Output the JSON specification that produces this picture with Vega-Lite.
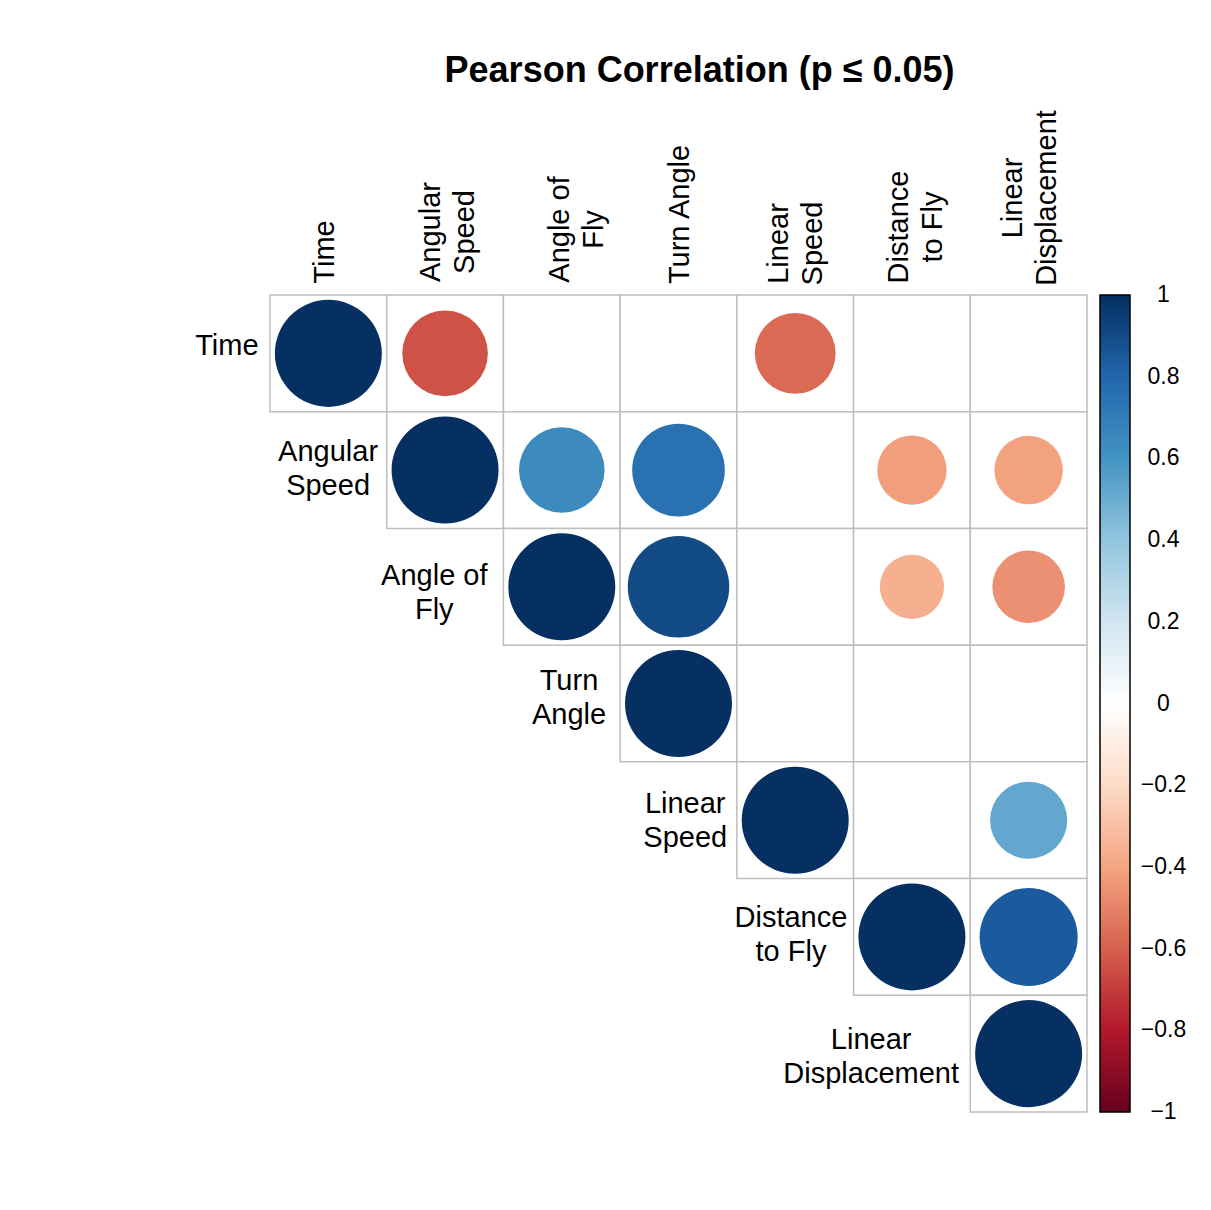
{
  "$schema": "https://vega.github.io/schema/vega-lite/v6.json",
  "width": 817,
  "height": 817,
  "autosize": {"type": "none"},
  "padding": {"left": 270, "top": 295, "right": 124, "bottom": 98},
  "background": "white",
  "title": {
    "text": "Pearson Correlation (p ≤ 0.05)",
    "font": "Liberation Sans",
    "fontSize": 36,
    "fontWeight": "bold",
    "color": "black",
    "anchor": "middle",
    "dx": 21,
    "offset": 20
  },
  "config": {
    "view": {"stroke": null},
    "font": "Liberation Sans",
    "text": {"font": "Liberation Sans", "fontSize": 29, "color": "black", "align": "center", "baseline": "middle", "lineBreak": "\n", "lineHeight": 34}
  },
  "datasets": {
    "cells": [
      {"row": "Time", "col": "Time", "r": 1},
      {"row": "Time", "col": "Angular Speed", "r": -0.64},
      {"row": "Time", "col": "Angle of Fly", "r": null},
      {"row": "Time", "col": "Turn Angle", "r": null},
      {"row": "Time", "col": "Linear Speed", "r": -0.57},
      {"row": "Time", "col": "Distance to Fly", "r": null},
      {"row": "Time", "col": "Linear Displacement", "r": null},
      {"row": "Angular Speed", "col": "Angular Speed", "r": 1},
      {"row": "Angular Speed", "col": "Angle of Fly", "r": 0.64},
      {"row": "Angular Speed", "col": "Turn Angle", "r": 0.75},
      {"row": "Angular Speed", "col": "Linear Speed", "r": null},
      {"row": "Angular Speed", "col": "Distance to Fly", "r": -0.42},
      {"row": "Angular Speed", "col": "Linear Displacement", "r": -0.41},
      {"row": "Angle of Fly", "col": "Angle of Fly", "r": 1},
      {"row": "Angle of Fly", "col": "Turn Angle", "r": 0.9},
      {"row": "Angle of Fly", "col": "Linear Speed", "r": null},
      {"row": "Angle of Fly", "col": "Distance to Fly", "r": -0.36},
      {"row": "Angle of Fly", "col": "Linear Displacement", "r": -0.46},
      {"row": "Turn Angle", "col": "Turn Angle", "r": 1},
      {"row": "Turn Angle", "col": "Linear Speed", "r": null},
      {"row": "Turn Angle", "col": "Distance to Fly", "r": null},
      {"row": "Turn Angle", "col": "Linear Displacement", "r": null},
      {"row": "Linear Speed", "col": "Linear Speed", "r": 1},
      {"row": "Linear Speed", "col": "Distance to Fly", "r": null},
      {"row": "Linear Speed", "col": "Linear Displacement", "r": 0.52},
      {"row": "Distance to Fly", "col": "Distance to Fly", "r": 1},
      {"row": "Distance to Fly", "col": "Linear Displacement", "r": 0.84},
      {"row": "Linear Displacement", "col": "Linear Displacement", "r": 1}
    ],
    "labels": [
      {"var": "Time", "label": "Time"},
      {"var": "Angular Speed", "label": "Angular\nSpeed"},
      {"var": "Angle of Fly", "label": "Angle of\nFly"},
      {"var": "Turn Angle", "label": "Turn\nAngle"},
      {"var": "Linear Speed", "label": "Linear\nSpeed"},
      {"var": "Distance to Fly", "label": "Distance\nto Fly"},
      {"var": "Linear Displacement", "label": "Linear\nDisplacement"}
    ]
  },
  "layer": [
    {
      "data": {"name": "cells"},
      "mark": {"type": "rect", "fill": "white", "stroke": "#BEBEBE", "strokeWidth": 1.5},
      "encoding": {
        "x": {
          "field": "col", "type": "nominal",
          "scale": {"domain": ["Time", "Angular Speed", "Angle of Fly", "Turn Angle", "Linear Speed", "Distance to Fly", "Linear Displacement"], "paddingInner": 0, "paddingOuter": 0},
          "axis": {
            "orient": "top", "title": null, "domain": false, "ticks": false,
            "labelAngle": 270, "labelPadding": 0, "labelFontSize": 29, "labelFont": "Liberation Sans",
            "labelColor": "black", "labelLineHeight": 34, "labelLimit": 400,
            "labelAlign": "center", "labelBaseline": "middle", "labelOverlap": false, "labelBound": false,
            "labelExpr": "datum.value == 'Angular Speed' ? ['Angular','Speed'] : datum.value == 'Angle of Fly' ? ['Angle of','Fly'] : datum.value == 'Linear Speed' ? ['Linear','Speed'] : datum.value == 'Distance to Fly' ? ['Distance','to Fly'] : datum.value == 'Linear Displacement' ? ['Linear','Displacement'] : datum.value",
            "encoding": {
              "labels": {
                "dx": {
                  "condition": [
                    {"test": "datum.value == 'Time'", "value": 43.5},
                    {"test": "datum.value == 'Angular Speed'", "value": 63.5},
                    {"test": "datum.value == 'Angle of Fly'", "value": 66},
                    {"test": "datum.value == 'Turn Angle'", "value": 81},
                    {"test": "datum.value == 'Linear Speed'", "value": 52},
                    {"test": "datum.value == 'Distance to Fly'", "value": 68.5}
                  ],
                  "value": 97.5
                },
                "dy": {
                  "condition": [
                    {"test": "datum.value == 'Time'", "value": -3},
                    {"test": "datum.value == 'Turn Angle'", "value": 1},
                    {"test": "datum.value == 'Angular Speed'", "value": -14},
                    {"test": "datum.value == 'Angle of Fly'", "value": -2},
                    {"test": "datum.value == 'Distance to Fly'", "value": -13}
                  ],
                  "value": -16
                }
              }
            }
          }
        },
        "y": {
          "field": "row", "type": "nominal",
          "scale": {"domain": ["Time", "Angular Speed", "Angle of Fly", "Turn Angle", "Linear Speed", "Distance to Fly", "Linear Displacement"], "paddingInner": 0, "paddingOuter": 0},
          "axis": null
        }
      }
    },
    {
      "data": {"name": "cells"},
      "transform": [{"filter": "isValid(datum.r)"}],
      "mark": {"type": "circle", "opacity": 1, "strokeWidth": 0},
      "encoding": {
        "x": {"field": "col", "type": "nominal"},
        "y": {"field": "row", "type": "nominal"},
        "size": {
          "field": "r", "type": "quantitative",
          "scale": {"type": "linear", "domain": [-1, 0, 1], "range": [11449, 0, 11449], "nice": false, "zero": false},
          "legend": null
        },
        "color": {
          "field": "r", "type": "quantitative",
          "scale": {
            "type": "linear",
            "domain": [-1, -0.8, -0.6, -0.4, -0.2, 0, 0.2, 0.4, 0.6, 0.8, 1],
            "range": ["#67001F", "#B2182B", "#D6604D", "#F4A582", "#FDDBC7", "#FFFFFF", "#D1E5F0", "#92C5DE", "#4393C3", "#2166AC", "#053061"],
            "interpolate": "rgb",
            "nice": false
          },
          "legend": {
            "orient": "right", "offset": 13, "title": null,
            "gradientLength": 817, "gradientThickness": 30,
            "gradientStrokeColor": "black", "gradientStrokeWidth": 1.5,
            "values": [1, 0.8, 0.6, 0.4, 0.2, 0, -0.2, -0.4, -0.6, -0.8, -1],
            "format": "~g",
            "labelFontSize": 23, "labelFont": "Liberation Sans", "labelColor": "black",
            "labelOffset": 33.5, "labelOverlap": false,
            "encoding": {
              "labels": {
                "align": {"value": "center"},
                "baseline": {"value": "middle"}
              }
            }
          }
        }
      }
    },
    {
      "data": {"name": "labels"},
      "transform": [{"filter": "datum.var == 'Time'"}],
      "mark": {"type": "text", "dx": -101.5, "dy": -7},
      "encoding": {"x": {"field": "var", "type": "nominal"}, "y": {"field": "var", "type": "nominal"}, "text": {"field": "label", "type": "nominal"}}
    },
    {
      "data": {"name": "labels"},
      "transform": [{"filter": "datum.var == 'Angular Speed'"}],
      "mark": {"type": "text", "dx": -117, "dy": -18},
      "encoding": {"x": {"field": "var", "type": "nominal"}, "y": {"field": "var", "type": "nominal"}, "text": {"field": "label", "type": "nominal"}}
    },
    {
      "data": {"name": "labels"},
      "transform": [{"filter": "datum.var == 'Angle of Fly'"}],
      "mark": {"type": "text", "dx": -127.5, "dy": -11},
      "encoding": {"x": {"field": "var", "type": "nominal"}, "y": {"field": "var", "type": "nominal"}, "text": {"field": "label", "type": "nominal"}}
    },
    {
      "data": {"name": "labels"},
      "transform": [{"filter": "datum.var == 'Turn Angle'"}],
      "mark": {"type": "text", "dx": -109.5, "dy": -23},
      "encoding": {"x": {"field": "var", "type": "nominal"}, "y": {"field": "var", "type": "nominal"}, "text": {"field": "label", "type": "nominal"}}
    },
    {
      "data": {"name": "labels"},
      "transform": [{"filter": "datum.var == 'Linear Speed'"}],
      "mark": {"type": "text", "dx": -110, "dy": -16},
      "encoding": {"x": {"field": "var", "type": "nominal"}, "y": {"field": "var", "type": "nominal"}, "text": {"field": "label", "type": "nominal"}}
    },
    {
      "data": {"name": "labels"},
      "transform": [{"filter": "datum.var == 'Distance to Fly'"}],
      "mark": {"type": "text", "dx": -121, "dy": -19},
      "encoding": {"x": {"field": "var", "type": "nominal"}, "y": {"field": "var", "type": "nominal"}, "text": {"field": "label", "type": "nominal"}}
    },
    {
      "data": {"name": "labels"},
      "transform": [{"filter": "datum.var == 'Linear Displacement'"}],
      "mark": {"type": "text", "dx": -157.5, "dy": -14},
      "encoding": {"x": {"field": "var", "type": "nominal"}, "y": {"field": "var", "type": "nominal"}, "text": {"field": "label", "type": "nominal"}}
    }
  ]
}
